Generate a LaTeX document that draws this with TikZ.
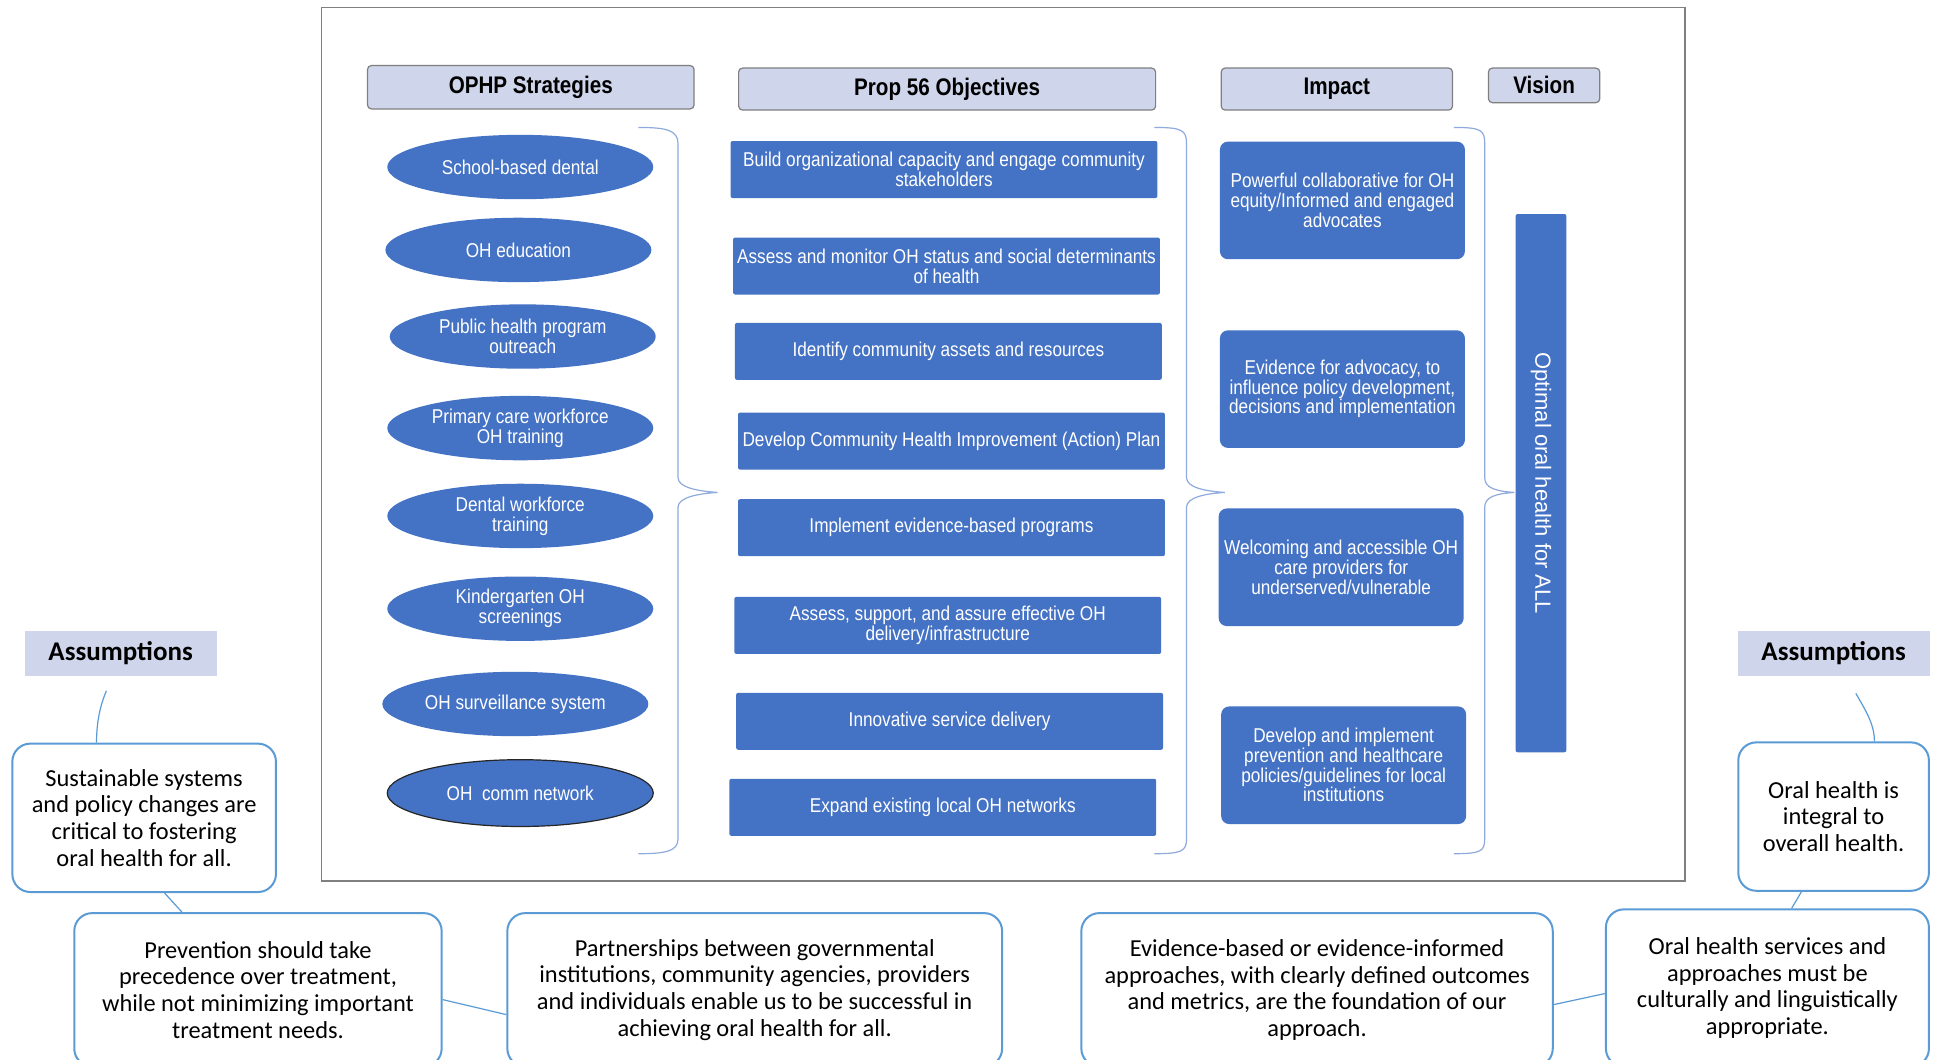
\documentclass[tikz,border=0pt]{standalone}
\usepackage{fontspec}
\setmainfont{Carlito}
\newfontfamily\narrowsf[FakeStretch=0.86]{Liberation Sans}
\newfontfamily\plainsf{Liberation Sans}
\usepackage{xcolor}
\usetikzlibrary{shapes.geometric, positioning, calc}
\definecolor{ophpblue}{HTML}{4472C4}
\definecolor{headfill}{HTML}{CFD5EA}
\definecolor{headline}{HTML}{7F7F7F}
\definecolor{asmline}{HTML}{5B9BD5}
\definecolor{braceline}{HTML}{8FAADC}

\begin{document}
\begin{tikzpicture}[
    x=0.6186pt, y=-0.6186pt,
    header/.style={draw=headline, fill=headfill, rounded corners=2pt, line width=0.6pt,
                   inner sep=0pt, font=\narrowsf\bfseries\fontsize{12}{14}\selectfont},
    strategy/.style={ellipse, fill=ophpblue, text=white, minimum width=133pt,
                     minimum height=32.2pt, inner sep=0pt, align=center,
                     font=\narrowsf\fontsize{10}{10}\selectfont},
    objective/.style={fill=ophpblue, rounded corners=1pt, text=white,
                      minimum width=213.4pt, minimum height=28.5pt, inner sep=0pt,
                      align=center, font=\narrowsf\fontsize{10}{10}\selectfont},
    impact/.style={fill=ophpblue, rounded corners=4pt, text=white,
                   minimum width=122.5pt, minimum height=58.8pt, inner sep=0pt,
                   align=center, font=\narrowsf\fontsize{10}{9.8}\selectfont},
    asmlabel/.style={fill=headfill, minimum width=95.9pt, minimum height=22.3pt,
                     inner sep=0pt, font=\bfseries\fontsize{13.5}{15}\selectfont},
    asmbox/.style={draw=asmline, line width=1pt, rounded corners=9pt, fill=white,
                   align=center, inner sep=0pt, font=\fontsize{12.2}{13.3}\selectfont},
    link/.style={draw=asmline, line width=0.6pt},
    bracket/.style={draw=braceline, line width=0.6pt},
]
\useasboundingbox (0,0) rectangle (1568,856);
\clip (0,0) rectangle (1568,856);
\fill[white] (0,0) rectangle (1568,856);

%% Frame
\draw[headline, line width=0.8pt] (260,6) rectangle (1362,712);

%% Column headers
\node[header, minimum width=163.3pt, minimum height=21.7pt] (hStrat) at (429,70.5) {OPHP Strategies};
\node[header, minimum width=208.5pt, minimum height=21pt] (hObj) at (765.5,72) {Prop 56 Objectives};
\node[header, minimum width=115.7pt, minimum height=21pt] (hImp) at (1080.5,72) {Impact};
\node[header, minimum width=55.7pt, minimum height=17.3pt] (hVis) at (1248,69) {Vision};

%% Strategies
\foreach \i/\x/\y/\t in {1/420.5/135/{School-based dental},
                         2/419/202/{OH education},
                         3/422.5/272/{Public health program\\outreach},
                         4/420.5/346/{Primary care workforce\\OH training},
                         5/420.5/417/{Dental workforce\\training},
                         6/420.5/492/{Kindergarten OH\\screenings},
                         7/416.5/569/{OH surveillance system}} {
  \node[strategy] (strat\i) at (\x,\y) {\t};
}
\node[strategy, draw=black!85, line width=0.6pt, minimum height=33.4pt] (strat8) at (420.5,641) {OH~ comm network};

%% Objectives
\foreach \i/\x/\y/\t in {1/763/137/{Build organizational capacity and engage community\\stakeholders},
                         2/765/215/{Assess and monitor OH status and social determinants\\of health},
                         3/766.5/284/{Identify community assets and resources},
                         4/769/356.5/{Develop Community Health Improvement (Action) Plan},
                         5/769/426.5/{Implement evidence-based programs},
                         6/766/505.5/{Assess, support, and assure effective OH\\delivery/infrastructure},
                         7/767.5/583/{Innovative service delivery},
                         8/762/652.5/{Expand existing local OH networks}} {
  \node[objective] (obj\i) at (\x,\y) {\t};
}

%% Impact
\foreach \i/\x/\y/\t in {1/1085/162/{Powerful collaborative for OH\\equity/Informed and engaged\\advocates},
                         2/1085/314.5/{Evidence for advocacy, to\\influence policy development,\\decisions and implementation},
                         3/1084/458.5/{Welcoming and accessible OH\\care providers for\\underserved/vulnerable},
                         4/1086/618.5/{Develop and implement\\prevention and healthcare\\policies/guidelines for local\\institutions}} {
  \node[impact] (imp\i) at (\x,\y) {\t};
}

%% Vision
\node[fill=ophpblue, rounded corners=1pt, text=white, rotate=-90, minimum width=269.1pt,
      minimum height=25.4pt, inner sep=0pt, font=\plainsf\fontsize{11}{13}\selectfont]
      (vis) at (1245.5,390.5) {Optimal oral health for ALL};

%% Braces
\foreach \xa/\xb/\xc in {516/548/580, 933/959/990, 1175/1200/1224} {
  \draw[bracket] (\xa,103) .. controls (\xa+22,103) and (\xb,105) .. (\xb,116)
    -- (\xb,386) .. controls (\xb,394) and (\xc-16,397) .. (\xc,398)
    .. controls (\xc-16,399) and (\xb,402) .. (\xb,410)
    -- (\xb,678) .. controls (\xb,688) and (\xa+22,690) .. (\xa,690);
}

%% Assumptions
\node[asmlabel] (asmL) at (97.5,528) {Assumptions};
\node[asmlabel] (asmR) at (1482,528) {Assumptions};

\node[asmbox, minimum width=131.8pt, minimum height=74.2pt] (sus) at (116.5,661)
  {Sustainable systems\\and policy changes are\\critical to fostering\\oral health for all.};
\node[asmbox, minimum width=95.3pt, minimum height=74.2pt] (integ) at (1482,660)
  {Oral health is\\integral to\\overall health.};
\node[asmbox, minimum width=183.7pt, minimum height=76.7pt] (prev) at (208.5,800)
  {Prevention should take\\precedence over treatment,\\while not minimizing important\\treatment needs.};
\node[asmbox, minimum width=247.4pt, minimum height=76.7pt] (part) at (610,800)
  {Partnerships between governmental\\institutions, community agencies, providers\\and individuals enable us to be successful in\\achieving oral health for all.};
\node[asmbox, minimum width=235.7pt, minimum height=76.7pt] (evid) at (1064.5,800)
  {Evidence-based or evidence-informed\\approaches, with clearly defined outcomes\\and metrics, are the foundation of our\\approach.};
\node[asmbox, minimum width=161.5pt, minimum height=78.6pt] (serv) at (1428.5,798.5)
  {Oral health services and\\approaches must be\\culturally and linguistically\\appropriate.};

%% Links
\draw[link] ([xshift=-7.1pt,yshift=-7.4pt]asmL.south) .. controls +(-6,14) and +(0,-14) .. ([xshift=-23.8pt]sus.north);
\draw[link] ([xshift=10.2pt]sus.south) -- ([xshift=-38pt]prev.north);
\draw[link] ([yshift=-4.9pt]prev.east) -- ([yshift=-12.4pt]part.west);
\draw[link] ([yshift=-7.4pt]evid.east) -- ([yshift=-2.8pt]serv.west);
\draw[link] ([xshift=-16.1pt]integ.south) -- ([xshift=12.1pt]serv.north);
\draw[link] ([xshift=11.1pt,yshift=-8.7pt]asmR.south) .. controls +(8,14) and +(0,-14) .. ([xshift=20.4pt]integ.north);
\end{tikzpicture}
\end{document}
